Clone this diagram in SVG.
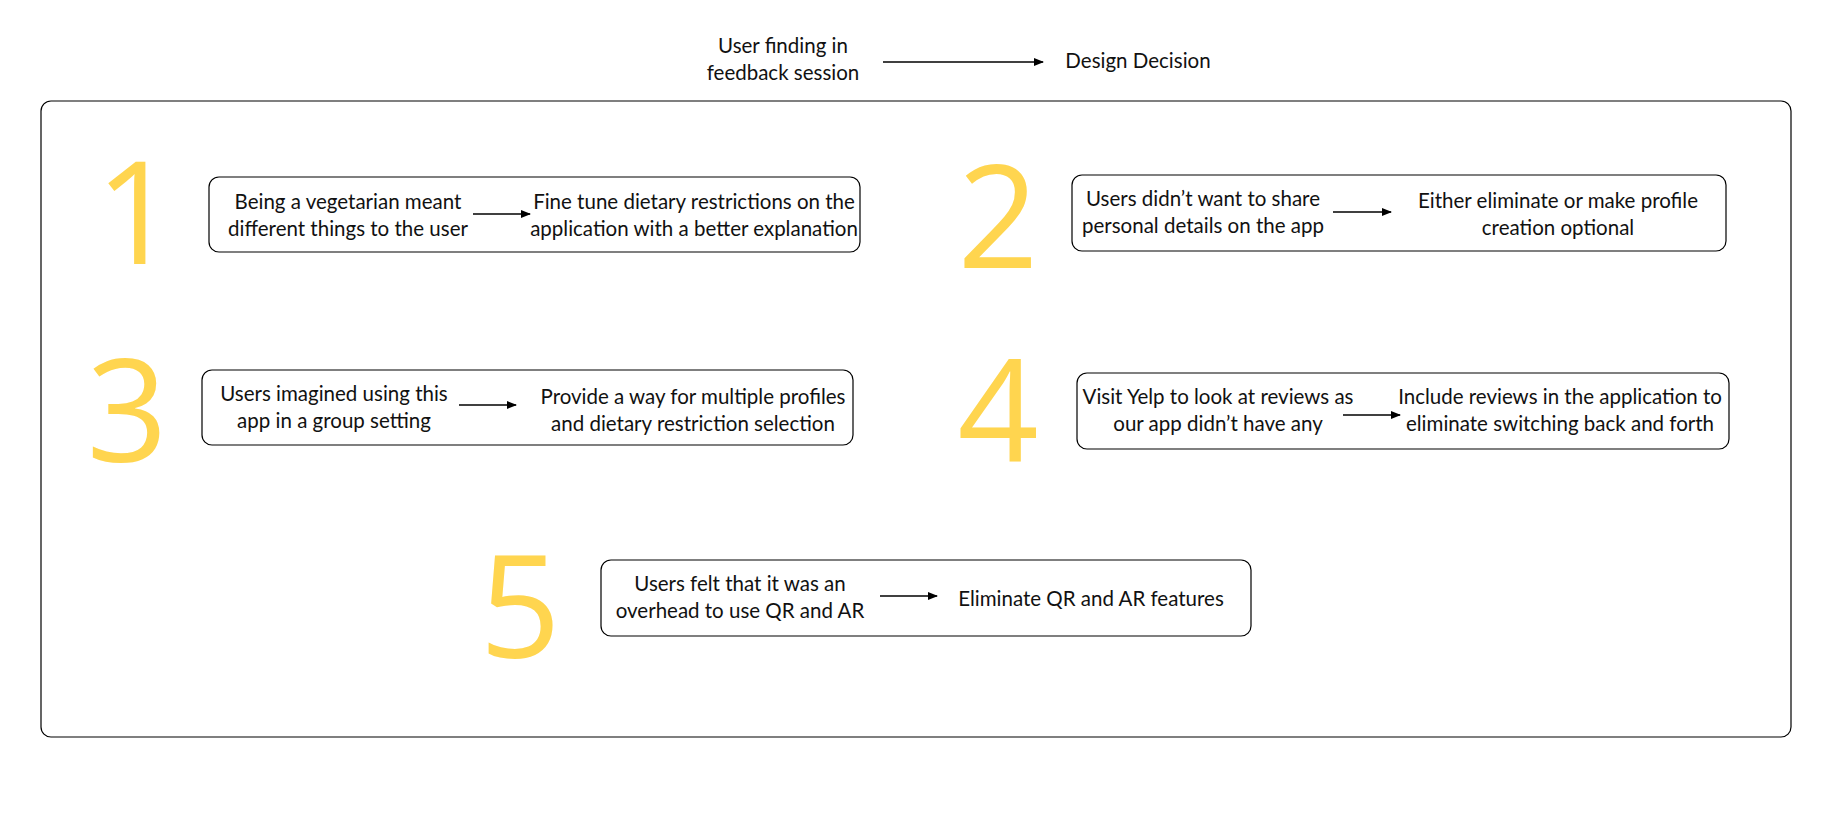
<svg xmlns="http://www.w3.org/2000/svg" width="1842" height="816" viewBox="0 0 1842 816">
<defs>
<marker id="ah" markerWidth="10" markerHeight="8" refX="9" refY="4" orient="auto" markerUnits="userSpaceOnUse">
<path d="M0,0 L10,4 L0,8 Z" fill="#000"/>
</marker>
<style>
.t{font-family:"Lato","Noto Sans",sans-serif;font-size:20.5px;fill:#111;text-anchor:middle}
.n{font-family:"Open Sans","Noto Sans",sans-serif;font-weight:400;font-size:142px;fill:#FFD54F;text-anchor:middle}
.b{fill:#fff;stroke:#000;stroke-width:1.2}
.c{stroke:#000;stroke-width:1.3;fill:none;marker-end:url(#ah)}
</style>
</defs>
<rect width="1842" height="816" fill="#fff"/>
<g id="legend">
<text class="t" x="783" y="53">User finding in</text>
<text class="t" x="783" y="80">feedback session</text>
<text class="t" x="1138" y="68">Design Decision</text>
</g>
<rect id="frame" x="41" y="101" width="1750" height="636" rx="10" class="b"/>
<g id="item1">
<text class="n" x="136" y="264">1</text>
<rect class="b" x="209" y="177" width="651" height="75" rx="10"/>
<text class="t" x="348" y="209">Being a vegetarian meant</text>
<text class="t" x="348" y="236">different things to the user</text>
<text class="t" x="694" y="209">Fine tune dietary restrictions on the</text>
<text class="t" x="694" y="236">application with a better explanation</text>
</g>
<g id="item2">
<text class="n" x="998" y="268">2</text>
<rect class="b" x="1072" y="175" width="654" height="76" rx="10"/>
<text class="t" x="1203" y="206">Users didn’t want to share</text>
<text class="t" x="1203" y="233">personal details on the app</text>
<text class="t" x="1558" y="208">Either eliminate or make profile</text>
<text class="t" x="1558" y="235">creation optional</text>
</g>
<g id="item3">
<text class="n" x="127" y="462">3</text>
<rect class="b" x="202" y="370" width="651" height="75" rx="10"/>
<text class="t" x="334" y="401">Users imagined using this</text>
<text class="t" x="334" y="428">app in a group setting</text>
<text class="t" x="693" y="404">Provide a way for multiple profiles</text>
<text class="t" x="693" y="431">and dietary restriction selection</text>
</g>
<g id="item4">
<text class="n" x="998" y="462">4</text>
<rect class="b" x="1077" y="373" width="652" height="76" rx="10"/>
<text class="t" x="1218" y="404">Visit Yelp to look at reviews as</text>
<text class="t" x="1218" y="431">our app didn’t have any</text>
<text class="t" x="1560" y="404">Include reviews in the application to</text>
<text class="t" x="1560" y="431">eliminate switching back and forth</text>
</g>
<g id="item5">
<text class="n" x="520" y="658">5</text>
<rect class="b" x="601" y="560" width="650" height="76" rx="10"/>
<text class="t" x="740" y="591">Users felt that it was an</text>
<text class="t" x="740" y="618">overhead to use QR and AR</text>
<text class="t" x="1091" y="606">Eliminate QR and AR features</text>
</g>
<g id="connectors">
<line class="c" x1="883" y1="62" x2="1043" y2="62"/>
<line class="c" x1="473" y1="214" x2="530" y2="214"/>
<line class="c" x1="1333" y1="212" x2="1391" y2="212"/>
<line class="c" x1="459" y1="405" x2="516" y2="405"/>
<line class="c" x1="1343" y1="415" x2="1400" y2="415"/>
<line class="c" x1="880" y1="596" x2="937" y2="596"/>
</g>
</svg>
